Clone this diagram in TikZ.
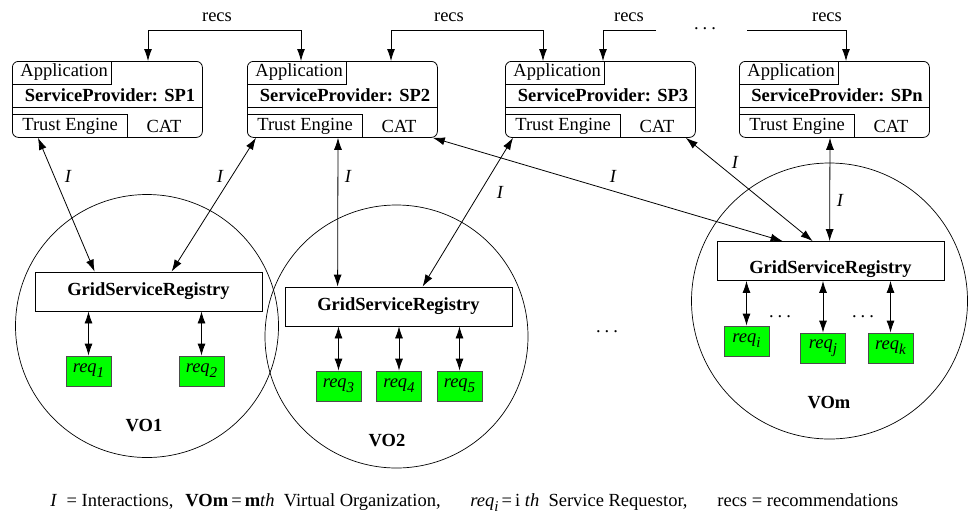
\documentclass[tikz,border=0pt]{standalone}
\usepackage{fontspec}
\setmainfont{Liberation Serif}
\usetikzlibrary{arrows.meta}

\newcommand\reqsub[1]{req\raisebox{-5pt}{\fontsize{15}{15}\selectfont\itshape #1}}

\begin{document}
\begin{tikzpicture}[x=1pt,y=-1pt,line width=0.8pt,
        every node/.style={font=\fontsize{18.5}{22}\selectfont, inner sep=0pt},
        spbox/.style={draw, rounded corners=6pt, minimum width=190pt, minimum height=76pt},
        gsrbox/.style={draw, minimum width=227pt, minimum height=39pt, font=\fontsize{18.5}{22}\selectfont\bfseries},
        reqbox/.style={draw=black!70, fill=green, minimum width=45pt, minimum height=30pt, font=\fontsize{18.5}{22}\selectfont\itshape},
        vocircle/.style={draw, circle, line width=0.7pt},
        link/.style={{Latex[length=12pt,width=8pt]}-{Latex[length=12pt,width=8pt]}},
        recsarrow/.style={-{Latex[length=12pt,width=8pt]}},
        ilabel/.style={font=\fontsize{18.5}{22}\selectfont\itshape}]

    \useasboundingbox (0,0) rectangle (971,515);

    % virtual organizations
    \node[vocircle, minimum size=263pt] (vo1) at (147,326) {};
    \node[vocircle, minimum size=263pt] (vo2) at (396.5,336.5) {};
    \node[vocircle, minimum size=276pt] (vom) at (829.5,301) {};
    \node[font=\fontsize{18.5}{22}\selectfont\bfseries] (vo1lab) at (144,426) {VO1};
    \node[font=\fontsize{18.5}{22}\selectfont\bfseries] (vo2lab) at (387,441) {VO2};
    \node[font=\fontsize{18.5}{22}\selectfont\bfseries] (vomlab) at (829,403) {VOm};

    % service providers
    \foreach \x/\n/\lab in {12/1/SP1, 247/2/SP2, 505/3/SP3, 739/n/SPn} {
        \node[spbox, anchor=north west] (sp\n) at (\x,61) {};
        \draw (\x,84) -- (\x+99,84) -- (\x+99,61);
        \draw (\x,107) -- (\x+190,107);
        \draw (\x,114) -- (\x+115,114) -- (\x+115,137);
        \node[anchor=west] (app\n) at (\x+8,72.5) {Application};
        \node (title\n) at (\x+98,95) {\textbf{ServiceProvider: \lab}};
        \node[anchor=west] (te\n) at (\x+10,126) {Trust Engine};
        \node (cat\n) at (\x+152,126) {CAT};
    }

    % registries
    \node[gsrbox] (gsr1) at (148.5,291.5) {GridServiceRegistry};
    \node[gsrbox] (gsr2) at (398.5,306.5) {GridServiceRegistry};
    \node[gsrbox, text height=24pt, text depth=0pt] (gsrm) at (830.5,261) {GridServiceRegistry};

    % requestors
    \foreach \n/\x/\y in {1/88.5/371, 2/201.5/371, 3/338.5/386, 4/399/386, 5/459.5/386,
                          i/746.5/341, j/823/348, k/890.5/348} {
        \node[reqbox] (req\n) at (\x,\y) {\reqsub{\n}};
    }
    \foreach \g/\r in {gsr1/req1, gsr1/req2, gsr2/req3, gsr2/req4, gsr2/req5,
                       gsrm/reqi, gsrm/reqj, gsrm/reqk} {
        \draw[link] (\g.south -| \r.north) -- (\r.north);
    }

    % interactions
    \draw[link] ([xshift=26pt]sp1.south west) -- ([xshift=60pt]gsr1.north west);
    \draw[link] ([xshift=9pt]sp2.south west) -- ([xshift=137pt]gsr1.north west);
    \draw[link] ([xshift=91pt]sp2.south west) -- ([xshift=53pt]gsr2.north west);
    \draw[link] ([xshift=8pt]sp3.south west) -- ([xshift=138pt]gsr2.north west);
    \draw[link] ([xshift=-5pt]sp2.south east) -- ([xshift=66pt]gsrm.north west);
    \draw[link] ([xshift=-10pt]sp3.south east) -- ([xshift=96pt]gsrm.north west);
    \draw[link] ([xshift=91pt]spn.south west) -- ([xshift=113pt]gsrm.north west);
    \node[ilabel] (i1) at (68,176) {I};
    \node[ilabel] (i2) at (220,176) {I};
    \node[ilabel] (i3) at (348,176) {I};
    \node[ilabel] (i4) at (500,192) {I};
    \node[ilabel] (i5) at (613,176) {I};
    \node[ilabel] (i6) at (735,162) {I};
    \node[ilabel] (i7) at (840,200) {I};

    % recommendations
    \coordinate (recs3end) at (656,30);
    \coordinate (recs4end) at (747,30);
    \draw[link] ([xshift=136pt]sp1.north west) -- ++(0,-31) -| ([xshift=54pt]sp2.north west);
    \draw[link] ([xshift=144pt]sp2.north west) -- ++(0,-31) -| ([xshift=38pt]sp3.north west);
    \draw[recsarrow] (recs3end) -| ([xshift=98pt]sp3.north west);
    \draw[recsarrow] (recs4end) -| ([xshift=107pt]spn.north west);
    \node (recs1) at (217,17) {recs};
    \node (recs2) at (449,17) {recs};
    \node (recs3) at (629,17) {recs};
    \node (recs4) at (827,17) {recs};

    % dots
    \node (dots1) at (705,29) {.\hspace{4pt}.\hspace{4pt}.};
    \node (dots2) at (607,332) {.\hspace{4pt}.\hspace{4pt}.};
    \node (dots3) at (780,317) {.\hspace{4pt}.\hspace{4pt}.};
    \node (dots4) at (863,317) {.\hspace{4pt}.\hspace{4pt}.};

    % legend
    \node[anchor=base west] (leg1) at (50,506) {\textit{I}\ \ = Interactions,};
    \node[anchor=base west] (leg2) at (185,506) {\textbf{VOm}\,=\,\textbf{m}\textit{th}\ \ Virtual Organization,};
    \node[anchor=base west] (leg3) at (470,506) {\textit{\reqsub{i}}\,=\,i \textit{th}\ \ Service Requestor,};
    \node[anchor=base west] (leg4) at (717,506) {recs = recommendations};
\end{tikzpicture}
\end{document}
